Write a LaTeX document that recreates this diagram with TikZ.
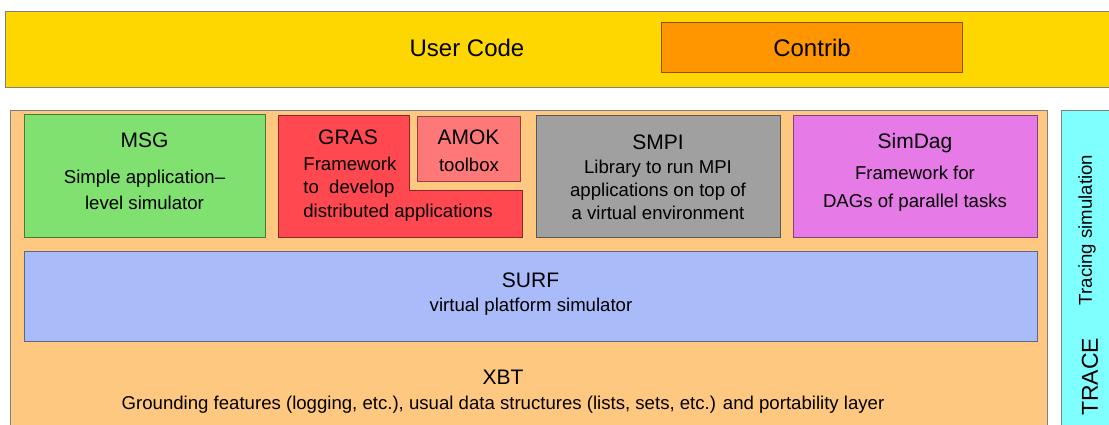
\documentclass[tikz,border=0pt]{standalone}
\usepackage{fontspec}
\setmainfont{Liberation Sans}
\begin{document}
\begin{tikzpicture}[x=1pt,y=-1pt,
    layer/.style={draw=#1!55!black,fill=#1,line width=.5pt,inner sep=0pt,anchor=north west},
    title/.style={font=\fontsize{10.5}{12}\selectfont},
    desc/.style={font=\fontsize{9.3}{11.5}\selectfont,align=center}]

\definecolor{ucyellow}{RGB}{255,215,0}
\definecolor{ctorange}{RGB}{255,150,0}
\definecolor{simorange}{RGB}{255,200,128}
\definecolor{msggreen}{RGB}{128,224,112}
\definecolor{grasred}{RGB}{255,72,80}
\definecolor{amokpink}{RGB}{255,120,120}
\definecolor{smpigray}{RGB}{160,160,160}
\definecolor{sdmagenta}{RGB}{230,122,230}
\definecolor{surfblue}{RGB}{170,187,250}
\definecolor{trcyan}{RGB}{128,255,255}

\useasboundingbox (0,0) rectangle (554.5,212);
\clip (0,0) rectangle (554.5,212);

% user side
\node[layer=ucyellow,draw=gray,minimum width=560pt,minimum height=38pt] (uc) at (2.5,5.5) {};
\node[font=\fontsize{12}{14}\selectfont] (uctext) at (233.5,24) {User Code};
\node[layer=ctorange,minimum width=150.5pt,minimum height=25pt] (ctb) at (330.5,11) {};
\node[font=\fontsize{12}{14}\selectfont] (ctbtext) at (ctb.center) {Contrib};

% simgrid itself
\node[layer=simorange,draw=gray,minimum width=518.5pt,minimum height=165pt] (sim) at (5,55) {};
\node[layer=msggreen,minimum width=120.5pt,minimum height=61.5pt] (msg) at (12,57) {};
\draw[draw=grasred!55!black,fill=grasred,line width=.5pt] (139,57.5) -- (204.5,57.5) -- (204.5,95)
    -- (261,95) -- (261,118.5) -- (139,118.5) -- cycle;
\node[layer=amokpink,minimum width=51.5pt,minimum height=32.5pt] (amok) at (208.5,58) {};
\node[layer=smpigray,minimum width=122pt,minimum height=61pt] (smpi) at (268,57.5) {};
\node[layer=sdmagenta,minimum width=122pt,minimum height=61pt] (sd) at (396.5,57.5) {};
\node[layer=surfblue,minimum width=506.5pt,minimum height=45pt] (surf) at (12,125.5) {};
\node[layer=trcyan,draw=gray,minimum width=40pt,minimum height=165pt] (tr) at (530.5,55) {};

\node[title] (msgt) at (72.25,70) {MSG};
\node[desc,font=\fontsize{9.3}{13}\selectfont] (msgd) at (72.25,95) {Simple application–\\level simulator};

\node[title] (grast) at (174,68.5) {GRAS};
\node[desc,align=left,anchor=west,inner sep=0pt,font=\fontsize{9.3}{11.75}\selectfont] (grasd) at (151.5,94.5)
    {Framework\\to\ \ develop\\distributed applications};

\node[title] (amokt) at (234.25,68.5) {AMOK};
\node[desc] (amokd) at (234.5,82.5) {toolbox};

\node[title] (smpit) at (329,71) {SMPI};
\node[desc] (smpid) at (329,95) {Library to run MPI\\applications on top of\\a virtual environment};

\node[title] (sdt) at (457.5,71.5) {SimDag};
\node[desc,font=\fontsize{9.3}{14}\selectfont] (sdd) at (457.5,94.5) {Framework for\\DAGs of parallel tasks};

\node[title] (surft) at (265.25,140) {SURF};
\node[desc] (surfd) at (265.5,153.5) {virtual platform simulator};

\node[title] (xbtt) at (251.5,188.5) {XBT};
\node[desc] (xbtd) at (251.5,202.5)
    {Grounding features (logging, etc.), usual data structures (lists, sets, etc.) and portability layer};

\node[desc,rotate=90] (trd) at (543.5,115) {Tracing simulation};
\node[font=\fontsize{11.5}{13}\selectfont,rotate=90] (trt) at (545,188.5) {TRACE};

\end{tikzpicture}
\end{document}
